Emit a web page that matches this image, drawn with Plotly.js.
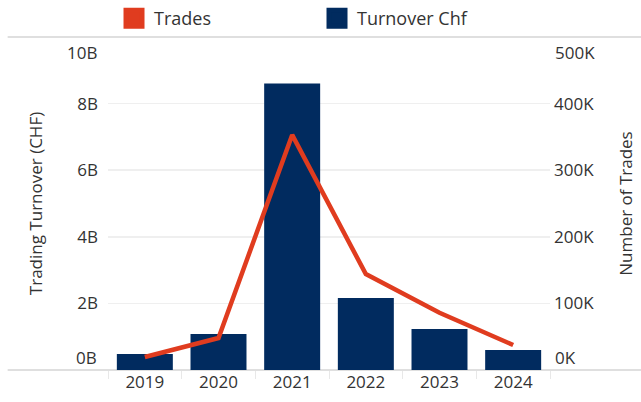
<!DOCTYPE html>
<html>
<head>
<meta charset="utf-8">
<script src="https://cdn.plot.ly/plotly-3.0.1.min.js"></script>
<style>html,body{margin:0;padding:0;background:#fff;}#chart{width:641px;height:402px;}</style>
</head>
<body>
<div id="chart"></div>
<script>
const years = ['2019', '2020', '2021', '2022', '2023', '2024'];
const turnoverChf = [0.48e9, 1.08e9, 8.6e9, 2.16e9, 1.23e9, 0.6e9];
const trades = [19500, 48000, 353000, 144000, 86000, 37500];

const leftTickVals = [0, 2e9, 4e9, 6e9, 8e9, 10e9];
const leftTickText = ['0B', '2B', '4B', '6B', '8B', '10B'];
const rightTickVals = [0, 100000, 200000, 300000, 400000, 500000];
const rightTickText = ['0K', '100K', '200K', '300K', '400K', '500K'];

const RED = '#e03c1f';
const NAVY = '#012b5f';
const TXT = '#333333';
const FONT = '"Open Sans", "Noto Sans", sans-serif';
const FS = 17;

const data = [
  {type: 'bar', x: years, y: turnoverChf, name: 'Turnover Chf', marker: {color: NAVY}, yaxis: 'y', showlegend: false, hoverinfo: 'skip'},
  {type: 'scatter', mode: 'lines', x: years, y: trades, name: 'Trades', line: {color: RED, width: 4.5}, yaxis: 'y2', showlegend: false, hoverinfo: 'skip'},
  {type: 'scatter', mode: 'markers', x: [null], y: [null], name: 'Trades', marker: {symbol: 'square', size: 16, color: RED, line: {color: RED, width: 5}}},
  {type: 'scatter', mode: 'markers', x: [null], y: [null], name: 'Turnover Chf', marker: {symbol: 'square', size: 16, color: NAVY, line: {color: NAVY, width: 5}}}
];

const annotations = [];
[0, leftTickVals.length - 1].forEach(i => {
  annotations.push({xref: 'paper', yref: 'y', x: 0, y: leftTickVals[i], text: leftTickText[i], showarrow: false,
    xanchor: 'right', yanchor: 'middle', xshift: -9, yshift: i === 0 ? 13 : -15, font: {size: FS, color: TXT, family: FONT}});
  annotations.push({xref: 'paper', yref: 'y2', x: 1, y: rightTickVals[i], text: rightTickText[i], showarrow: false,
    xanchor: 'left', yanchor: 'middle', xshift: 3, yshift: i === 0 ? 13 : -15, font: {size: FS, color: TXT, family: FONT}});
});

const layout = {
  width: 641, height: 402,
  margin: {l: 108, r: 91, t: 37, b: 32, pad: 0, autoexpand: false},
  paper_bgcolor: '#ffffff', plot_bgcolor: '#ffffff',
  font: {family: FONT, size: FS, color: TXT},
  bargap: 0.24,
  showlegend: true,
  legend: {orientation: 'h', x: 0.0136, xanchor: 'left', y: 1, yanchor: 'bottom', entrywidth: 158, entrywidthmode: 'pixels',
    font: {size: 18, color: TXT, family: FONT}, bgcolor: 'rgba(0,0,0,0)'},
  xaxis: {type: 'category', showgrid: false, zeroline: false, showline: false,
    ticks: 'outside', tickson: 'boundaries', ticklen: 8, tickcolor: '#e8e8e8', tickwidth: 1,
    tickfont: {size: FS, color: TXT, family: FONT}},
  yaxis: {range: [0, 10e9], tickmode: 'array', tickvals: leftTickVals.slice(1, -1), ticktext: leftTickText.slice(1, -1),
    showgrid: true, gridcolor: '#efefef', gridwidth: 1.5, zeroline: false, showline: false,
    ticks: '', ticklabelstandoff: 9, tickfont: {size: FS, color: TXT, family: FONT},
    title: {text: 'Trading Turnover (CHF)', font: {size: FS, color: TXT, family: FONT}, standoff: 30}},
  yaxis2: {range: [0, 500000], overlaying: 'y', side: 'right', tickmode: 'array', tickvals: rightTickVals.slice(1, -1), ticktext: rightTickText.slice(1, -1),
    showgrid: false, zeroline: false, showline: false, ticks: '', ticklabelstandoff: 3,
    tickfont: {size: FS, color: TXT, family: FONT},
    title: {text: 'Number of Trades', font: {size: FS, color: TXT, family: FONT}, standoff: 26}},
  shapes: [
    {type: 'line', xref: 'paper', yref: 'paper', x0: -0.227, x1: 1.21, y0: 1, y1: 1, line: {color: '#d4d4d4', width: 1.5}, layer: 'below'},
    {type: 'line', xref: 'paper', yref: 'paper', x0: -0.227, x1: 1.21, y0: 0, y1: 0, line: {color: '#d4d4d4', width: 1.5}, layer: 'below'}
  ],
  annotations: annotations
};

Plotly.newPlot('chart', data, layout, {displayModeBar: false, staticPlot: true});
</script>
</body>
</html>
